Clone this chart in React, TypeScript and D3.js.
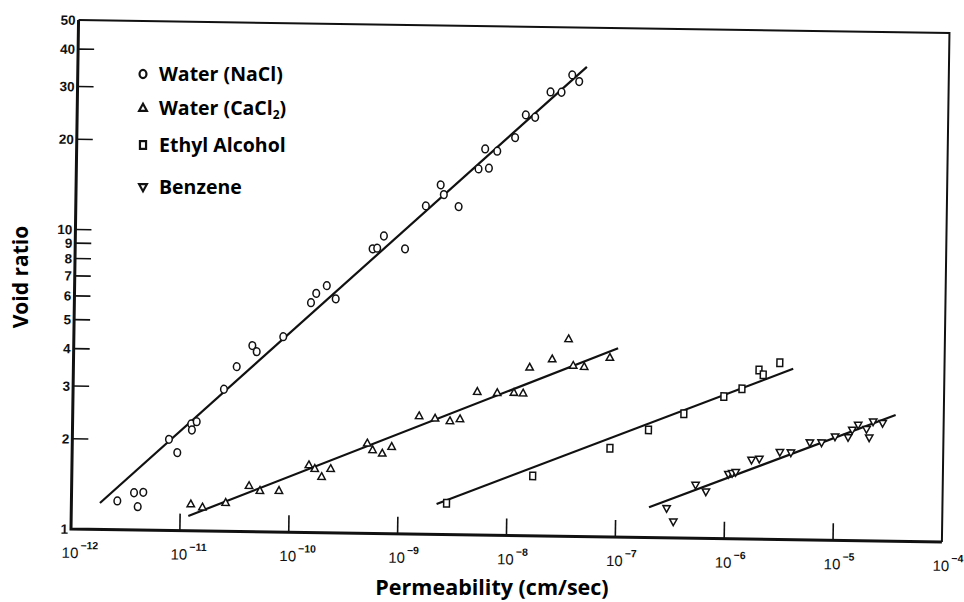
import React, { useRef, useEffect } from "react";
import * as d3 from "d3";

// permeability (cm/sec) and void ratio
const naclK = [2.64e-12, 3.75e-12, 4.56e-12, 4.07e-12, 7.72e-12, 9.24e-12, 1.23e-11, 1.25e-11, 1.38e-11, 2.43e-11, 3.16e-11, 4.37e-11, 4.8e-11, 8.38e-11, 1.49e-10, 1.66e-10, 2.07e-10, 2.51e-10, 5.39e-10, 5.94e-10, 6.82e-10, 1.07e-9, 1.64e-9, 2.23e-9, 2.39e-9, 3.28e-9, 4.94e-9, 6.15e-9, 5.65e-9, 7.3e-9, 1.06e-8, 1.32e-8, 1.61e-8, 2.21e-8, 2.79e-8, 3.48e-8, 4.04e-8];
const naclE = [1.247, 1.331, 1.337, 1.196, 2.015, 1.82, 2.272, 2.17, 2.314, 2.978, 3.548, 4.18, 3.99, 4.49, 5.85, 6.29, 6.68, 6.04, 8.91, 8.96, 9.85, 8.94, 12.47, 14.68, 13.63, 12.45, 16.67, 16.78, 19.45, 19.14, 21.29, 25.38, 24.96, 30.37, 30.34, 34.7, 33.0];

const cacl2K = [1.25e-11, 1.6e-11, 2.61e-11, 4.26e-11, 5.37e-11, 8.03e-11, 1.5e-10, 1.7e-10, 1.97e-10, 2.38e-10, 5.12e-10, 5.74e-10, 7.05e-10, 8.59e-10, 1.52e-9, 2.13e-9, 2.92e-9, 3.61e-9, 5.16e-9, 7.87e-9, 1.12e-8, 1.36e-8, 1.55e-8, 2.49e-8, 3.5e-8, 3.89e-8, 4.91e-8, 8.43e-8];
const cacl2E = [1.228, 1.2, 1.246, 1.423, 1.372, 1.375, 1.681, 1.635, 1.538, 1.637, 2.0, 1.9, 1.854, 1.953, 2.48, 2.44, 2.395, 2.435, 3.01, 2.99, 3.0, 2.99, 3.65, 3.9, 4.56, 3.72, 3.69, 3.97];

const ethylK = [2.79e-9, 1.71e-8, 8.68e-8, 1.95e-7, 4.1e-7, 9.5e-7, 1.39e-6, 1.98e-6, 2.17e-6, 3.07e-6];
const ethylE = [1.272, 1.585, 1.978, 2.287, 2.6, 2.98, 3.17, 3.67, 3.54, 3.89];

const benzeneK = [2.93e-7, 3.39e-7, 5.37e-7, 6.69e-7, 1.07e-6, 1.16e-6, 1.25e-6, 1.74e-6, 2.05e-6, 3.16e-6, 3.99e-6, 5.94e-6, 7.61e-6, 1.01e-5, 1.33e-5, 1.45e-5, 1.64e-5, 1.96e-5, 2.08e-5, 2.25e-5, 2.75e-5];
const benzeneE = [1.255, 1.133, 1.506, 1.432, 1.642, 1.655, 1.669, 1.837, 1.853, 1.956, 1.952, 2.113, 2.116, 2.218, 2.211, 2.34, 2.434, 2.357, 2.21, 2.5, 2.473];

// hand-drawn fit lines, end points
const naclFitK = [1.83e-12, 4.73e-8];
const naclFitE = [1.225, 36.96];
const cacl2FitK = [1.19e-11, 1.0e-7];
const cacl2FitE = [1.12, 4.27];
const ethylFitK = [2.26e-9, 4.08e-6];
const ethylFitE = [1.264, 3.72];
const benzeneFitK = [2.02e-7, 3.61e-5];
const benzeneFitE = [1.262, 2.64];

const yTicks = [2, 3, 4, 5, 6, 7, 8, 9, 10, 20, 30, 40];
const yLabels = [1, 2, 3, 4, 5, 6, 7, 8, 9, 10, 20, 30, 40, 50];
const xTicks = [-11, -10, -9, -8, -7, -6, -5];
const xLabels = [-12, -11, -10, -9, -8, -7, -6, -5, -4];

const legendItems = ["circle", "up", "square", "down"];

const shapes: Record<string, string> = {
  up: "M0,-4L3.7,2.7L-3.7,2.7Z",
  down: "M0,4L3.7,-2.7L-3.7,-2.7Z",
};

const App = () => {
  const ref = useRef<SVGSVGElement>(null);

  useEffect(() => {
    drawChart();
  }, []);

  const drawChart = () => {
    const svg = d3.select(ref.current);
    svg.selectAll("*").remove();

    const left = 71, right = 942, top = 20, bottom = 529;
    const x = d3.scaleLog().domain([1e-12, 1e-4]).range([left, right]);
    const y = d3.scaleLog().domain([1, 50]).range([bottom, top]);

    // the scan is tilted a little, so the plot box is too
    const g = svg
      .append("g")
      .attr("transform", `rotate(0.85, ${left}, ${bottom})`);

    // frame
    g.append("path")
      .attr("d", `M${left},${top}H${right}V${bottom}`)
      .attr("fill", "none")
      .attr("stroke", "#111")
      .attr("stroke-width", 2);
    g.append("path")
      .attr("d", `M${left},${top}V${bottom}H${right}`)
      .attr("fill", "none")
      .attr("stroke", "#111")
      .attr("stroke-width", 3);

    // y ticks + labels
    yTicks.forEach((t) => {
      g.append("line")
        .attr("x1", left)
        .attr("x2", left + 16)
        .attr("y1", y(t))
        .attr("y2", y(t))
        .attr("stroke", "#111")
        .attr("stroke-width", 1.6);
    });
    yLabels.forEach((t) => {
      g.append("text")
        .attr("x", left - 3)
        .attr("y", y(t))
        .attr("dy", "0.36em")
        .attr("text-anchor", "end")
        .attr("font-family", "Liberation Sans")
        .attr("font-weight", "bold")
        .attr("font-size", 13.5)
        .attr("fill", "#111")
        .text(t);
    });

    // x ticks + labels
    xTicks.forEach((t) => {
      g.append("line")
        .attr("x1", x(10 ** t))
        .attr("x2", x(10 ** t))
        .attr("y1", bottom)
        .attr("y2", bottom - 17)
        .attr("stroke", "#111")
        .attr("stroke-width", 1.6);
    });
    xLabels.forEach((t) => {
      const txt = g
        .append("text")
        .attr("x", x(10 ** t) - 9)
        .attr("y", bottom + 29)
        .attr("font-family", "Liberation Sans")
        .attr("font-size", 15)
        .attr("fill", "#111");
      txt.append("tspan").text("10");
      txt.append("tspan")
        .attr("dy", -9)
        .attr("dx", 2)
        .attr("font-size", 10.5)
        .attr("font-weight", "bold")
        .text(`\u2212${-t}`);
    });

    // fit lines
    const line = d3
      .line<[number, number]>()
      .x((d) => x(d[0]))
      .y((d) => y(d[1]));
    [
      [naclFitK, naclFitE],
      [cacl2FitK, cacl2FitE],
      [ethylFitK, ethylFitE],
      [benzeneFitK, benzeneFitE],
    ].forEach(([ks, es]) => {
      g.append("path")
        .attr("d", line(ks.map((k, i) => [k, es[i]] as [number, number])))
        .attr("fill", "none")
        .attr("stroke", "#111")
        .attr("stroke-width", 2.2);
    });

    const drawMarker = (
      sel: d3.Selection<SVGGElement, unknown, null, undefined>,
      kind: string,
      cx: number,
      cy: number,
      sw: number,
      s = 1
    ) => {
      if (kind === "circle") {
        sel.append("ellipse")
          .attr("cx", cx)
          .attr("cy", cy)
          .attr("rx", 3.3 * s)
          .attr("ry", 3.9 * s)
          .attr("fill", "#fff")
          .attr("stroke", "#111")
          .attr("stroke-width", sw);
      } else if (kind === "square") {
        sel.append("rect")
          .attr("x", cx - 2.9 * s)
          .attr("y", cy - 3.7 * s)
          .attr("width", 5.8 * s)
          .attr("height", 7.4 * s)
          .attr("fill", "#fff")
          .attr("stroke", "#111")
          .attr("stroke-width", sw);
      } else {
        sel.append("path")
          .attr("d", shapes[kind])
          .attr("transform", `translate(${cx},${cy}) scale(${s})`)
          .attr("fill", "#fff")
          .attr("stroke", "#111")
          .attr("stroke-width", sw / s);
      }
    };

    const series: [number[], number[], string][] = [
      [naclK, naclE, "circle"],
      [cacl2K, cacl2E, "up"],
      [ethylK, ethylE, "square"],
      [benzeneK, benzeneE, "down"],
    ];
    series.forEach(([ks, es, kind]) => {
      const mg = g.append("g");
      ks.forEach((k, i) => drawMarker(mg, kind, x(k), y(es[i]), 1.5));
    });

    // legend (not tilted)
    const legendNames = ["Water (NaCl)", "Water (CaCl", "Ethyl Alcohol", "Benzene"];
    const legendY = [74, 108, 145, 187];
    const lg = svg.append("g");
    legendItems.forEach((kind, i) => {
      drawMarker(lg, kind, 143, legendY[i], 2.2, 1.05);
      const t = lg
        .append("text")
        .attr("x", 159)
        .attr("y", legendY[i] + 7)
        .attr("font-family", "Open Sans")
        .attr("font-weight", "bold")
        .attr("font-size", 19.5)
        .attr("fill", "#000")
        .text(legendNames[i]);
      if (i === 1) {
        t.append("tspan").attr("font-size", 12).attr("dy", 4).text("2");
        t.append("tspan").attr("dy", -4).text(")");
      }
    });

    // axis titles
    svg.append("text")
      .attr("transform", "translate(28,277) rotate(-90)")
      .attr("text-anchor", "middle")
      .attr("font-family", "Open Sans")
      .attr("font-weight", "bold")
      .attr("font-size", 21)
      .attr("fill", "#000")
      .text("Void ratio");
    svg.append("text")
      .attr("x", 492)
      .attr("y", 595)
      .attr("text-anchor", "middle")
      .attr("font-family", "Open Sans")
      .attr("font-weight", "bold")
      .attr("font-size", 21.5)
      .attr("fill", "#000")
      .text("Permeability (cm/sec)");
  };

  return (
    <svg
      ref={ref}
      width={964}
      height={602}
      style={{ position: "absolute", left: 0, top: 0, background: "#fff" }}
    ></svg>
  );
};

export default App;
